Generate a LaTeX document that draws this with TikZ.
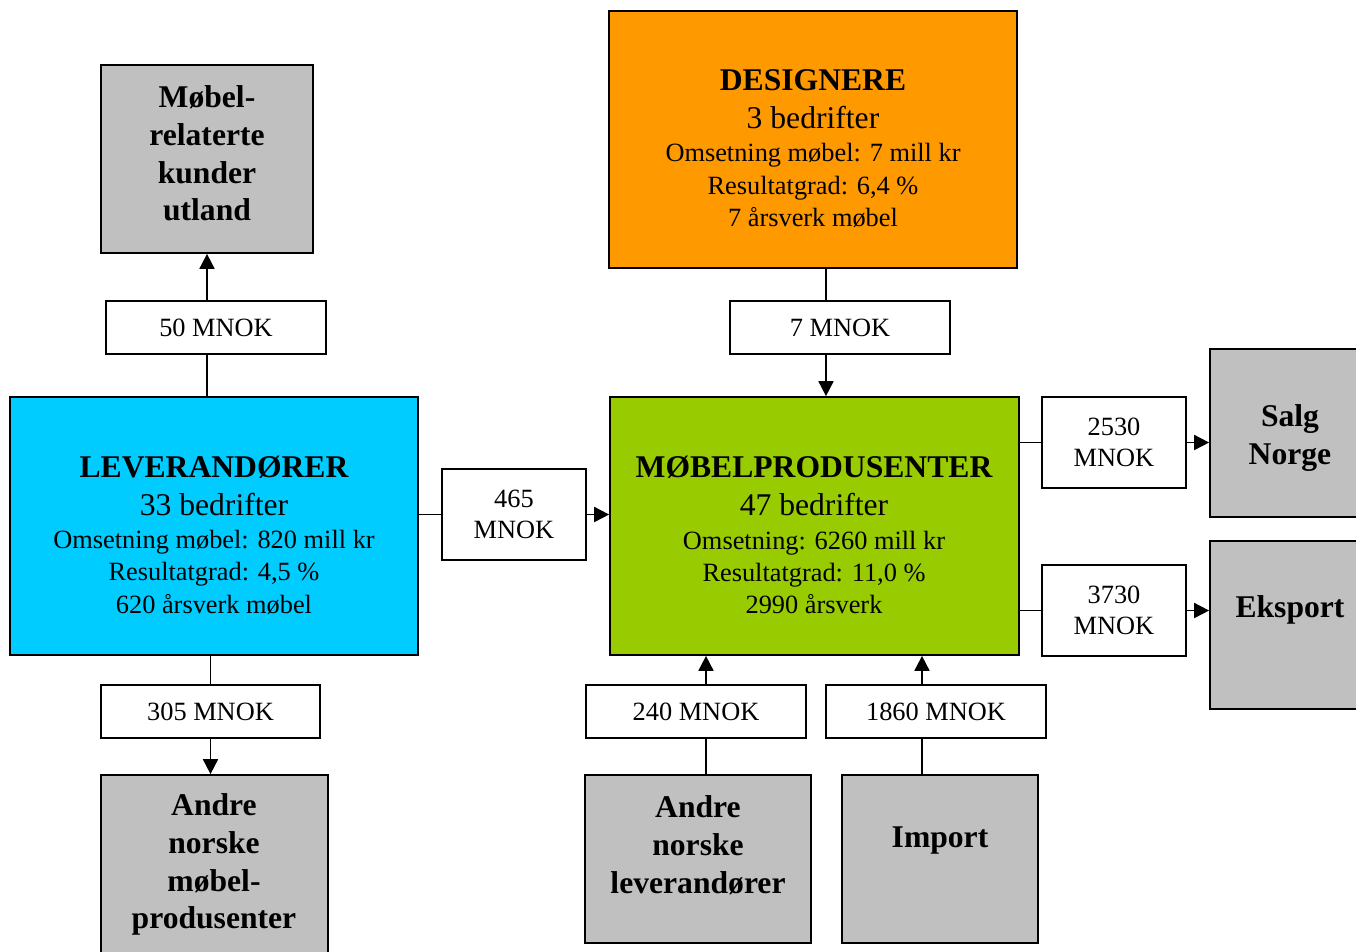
\documentclass[tikz,border=0pt]{standalone}
\usepackage{fontspec}
\setmainfont{Liberation Serif}
\usetikzlibrary{arrows.meta, calc}
\definecolor{greybox}{HTML}{C0C0C0}
\definecolor{levblue}{HTML}{00CCFF}
\definecolor{desorange}{HTML}{FF9900}
\definecolor{mobgreen}{HTML}{99CC00}
\tikzstyle{market} = [rectangle, draw=black, fill=greybox, line width=1pt]
\tikzstyle{sector} = [rectangle, draw=black, line width=1pt, minimum width=8.16cm, minimum height=5.16cm]
\tikzstyle{flow} = [rectangle, draw=black, fill=white, line width=0.9pt, minimum width=4.4cm, minimum height=1.06cm, align=center, font=\fontsize{15}{18}\selectfont]
\tikzstyle{flowtall} = [flow, minimum width=2.88cm, minimum height=1.82cm]
\tikzstyle{marketlabel} = [align=center, font=\fontsize{18}{21.5}\selectfont\bfseries]
\tikzstyle{sectorlabel} = [align=center, font=\fontsize{15}{18.3}\selectfont]
\tikzstyle{link} = [line width=1pt]
\tikzstyle{arrow} = [line width=1pt, -{Triangle[length=8.5pt,width=8.5pt]}]

\begin{document}
\begin{tikzpicture}[x=0.02cm, y=-0.02cm]
	\useasboundingbox (0,0) rectangle (1356,951);
	\clip (0,0) rectangle (1356,951);
	% bokser
	\node (kunder) [market, minimum width=4.24cm, minimum height=3.76cm] at (207,159) {};
	\node (lev) [sector, fill=levblue] at (214,526) {};
	\node (andremob) [market, minimum width=4.54cm, minimum height=3.7cm] at (214.5,867.5) {};
	\node (des) [sector, fill=desorange, minimum height=5.14cm] at (813,139.5) {};
	\node (mob) [sector, fill=mobgreen, minimum width=8.18cm] at (814.5,526) {};
	\node (salg) [market, minimum width=3.2cm, minimum height=3.36cm] at (1290,433) {};
	\node (eks) [market, minimum width=3.2cm, minimum height=3.36cm] at (1290,625) {};
	\node (andrelev) [market, minimum width=4.52cm, minimum height=3.36cm] at (698,859) {};
	\node (imp) [market, minimum width=3.92cm, minimum height=3.36cm] at (940,859) {};
	% tekster
	\node (kundertekst) [marketlabel] at (207,153.5) {Møbel-\\relaterte\\kunder\\utland};
	\node (andremobtekst) [marketlabel] at (214,864.5) {Andre\\norske\\møbel-\\produsenter};
	\node (andrelevtekst) [marketlabel] at (698,845) {Andre\\norske\\leverandører};
	\node (imptekst) [marketlabel] at (940,840) {Import};
	\node (salgtekst) [marketlabel] at (1290,438) {Salg\\Norge};
	\node (ekstekst) [marketlabel] at (1290,610) {Eksport};
	\node (levtekst) [sectorlabel] at (214,535) {\fontsize{18}{22}\selectfont\bfseries LEVERANDØRER\\[3.4pt] \fontsize{18}{21}\selectfont\mdseries 33 bedrifter\\[0.6pt] \fontsize{15}{18.3}\selectfont\mdseries Omsetning møbel: 820 mill kr\\ Resultatgrad: 4,5 \%\\ 620 årsverk møbel};
	\node (destekst) [sectorlabel] at (813,148.5) {\fontsize{18}{22}\selectfont\bfseries DESIGNERE\\[3.4pt] \fontsize{18}{21}\selectfont\mdseries 3 bedrifter\\[0.6pt] \fontsize{15}{18.3}\selectfont\mdseries Omsetning møbel: 7 mill kr\\ Resultatgrad: 6,4 \%\\ 7 årsverk møbel};
	\node (mobtekst) [sectorlabel] at (814,535) {\fontsize{18}{22}\selectfont\bfseries MØBELPRODUSENTER\\[3.4pt] \fontsize{18}{21}\selectfont\mdseries 47 bedrifter\\[0.6pt] \fontsize{15}{18.3}\selectfont\mdseries Omsetning: 6260 mill kr\\ Resultatgrad: 11,0 \%\\ 2990 årsverk};
	% flyter
	\node (f50) [flow] at (216,327.5) {50 MNOK};
	\node (f305) [flow, minimum width=4.38cm] at (210.5,711.5) {305 MNOK};
	\node (f465) [flowtall] at (514,514.5) {465\\MNOK};
	\node (f7) [flow] at (840,327.5) {7 MNOK};
	\node (f2530) [flowtall] at (1114,442.5) {2530\\MNOK};
	\node (f3730) [flowtall] at (1114,610.5) {3730\\MNOK};
	\node (f240) [flow] at (696,711.5) {240 MNOK};
	\node (f1860) [flow] at (936,711.5) {1860 MNOK};
	\coordinate (d7) at ($(f7.center)+(-14,0)$);
	\coordinate (l240) at ($(f240.center)+(10,0)$);
	\coordinate (l1860) at ($(f1860.center)+(-14,0)$);
	% piler
	\draw [link] (lev.north -| kunder) -- (f50.south -| kunder);
	\draw [arrow] (f50.north -| kunder) -- (kunder.south);
	\draw [link] (lev.south -| f305) -- (f305.north);
	\draw [arrow] (f305.south) -- (f305.south |- andremob.north);
	\draw [link] (lev.east |- f465) -- (f465.west);
	\draw [arrow] (f465.east) -- (f465.east -| mob.west);
	\draw [link] (d7 |- des.south) -- (d7 |- f7.north);
	\draw [arrow] (d7 |- f7.south) -- (d7 |- mob.north);
	\draw [link] (mob.east |- f2530) -- (f2530.west);
	\draw [arrow] (f2530.east) -- (f2530.east -| salg.west);
	\draw [link] (mob.east |- f3730) -- (f3730.west);
	\draw [arrow] (f3730.east) -- (f3730.east -| eks.west);
	\draw [link] (l240 |- andrelev.north) -- (l240 |- f240.south);
	\draw [arrow] (l240 |- f240.north) -- (l240 |- mob.south);
	\draw [link] (l1860 |- imp.north) -- (l1860 |- f1860.south);
	\draw [arrow] (l1860 |- f1860.north) -- (l1860 |- mob.south);
\end{tikzpicture}
\end{document}
